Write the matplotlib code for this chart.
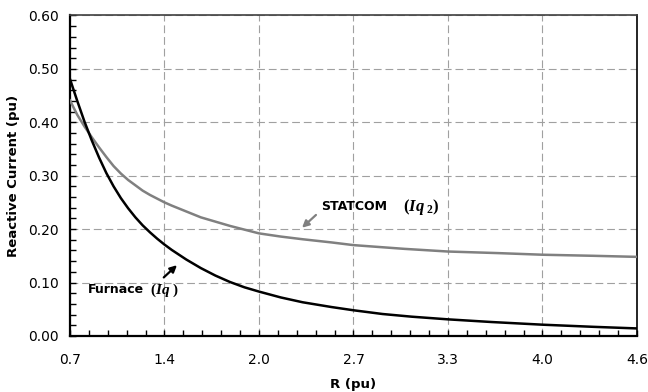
import numpy as np
import matplotlib.pyplot as plt
from matplotlib.ticker import AutoMinorLocator

# values
r_furnace = [0.70, 0.75, 0.80, 0.85, 0.90, 0.95, 1.00, 1.05, 1.10, 1.15, 1.20, 1.25, 1.30,
             1.35, 1.40, 1.50, 1.60, 1.70, 1.80, 1.90, 2.00, 2.15, 2.30, 2.50, 2.65, 2.85,
             3.05, 3.30, 3.60, 3.95, 4.30, 4.60]
iq_furnace = [0.481, 0.440, 0.401, 0.366, 0.334, 0.305, 0.280, 0.258, 0.239, 0.222, 0.207,
              0.194, 0.182, 0.171, 0.161, 0.143, 0.127, 0.113, 0.101, 0.091, 0.083, 0.072,
              0.063, 0.054, 0.048, 0.041, 0.036, 0.031, 0.026, 0.021, 0.017, 0.014]

r_statcom = [0.70, 0.75, 0.80, 0.85, 0.90, 0.95, 1.00, 1.05, 1.10, 1.15, 1.20, 1.25, 1.30,
             1.35, 1.40, 1.50, 1.60, 1.70, 1.80, 1.90, 2.00, 2.15, 2.30, 2.50, 2.65, 3.00,
             3.30, 3.65, 3.95, 4.30, 4.60]
iq_statcom = [0.441, 0.414, 0.392, 0.372, 0.353, 0.335, 0.318, 0.304, 0.292, 0.282, 0.272,
              0.264, 0.257, 0.250, 0.244, 0.233, 0.222, 0.214, 0.206, 0.199, 0.192, 0.186,
              0.181, 0.175, 0.170, 0.163, 0.158, 0.155, 0.152, 0.150, 0.148]

x_ticks = [0.7, 1.35, 2.0, 2.65, 3.3, 3.95, 4.6]
x_tick_labels = ['0.7', '1.4', '2.0', '2.7', '3.3', '4.0', '4.6']
y_ticks = [0.0, 0.1, 0.2, 0.3, 0.4, 0.5, 0.6]
y_tick_labels = ['0.00', '0.10', '0.20', '0.30', '0.40', '0.50', '0.60']

plt.rcParams['mathtext.fontset'] = 'custom'
plt.rcParams['mathtext.it'] = 'Liberation Serif:italic:bold'
plt.rcParams['mathtext.rm'] = 'Liberation Serif:bold'

fig = plt.figure(figsize=(6.48, 3.92), dpi=100)
ax = fig.add_axes([0.108, 0.1431, 0.875, 0.8174])

ax.plot(r_statcom, iq_statcom, color='#808080', lw=1.8, zorder=3)
ax.plot(r_furnace, iq_furnace, color='black', lw=1.8, zorder=3)

ax.set_xlim(0.7, 4.6)
ax.set_ylim(0.0, 0.6)
ax.set_xticks(x_ticks)
ax.set_xticklabels(x_tick_labels)
ax.set_yticks(y_ticks)
ax.set_yticklabels(y_tick_labels)
ax.xaxis.set_minor_locator(AutoMinorLocator(5))
ax.yaxis.set_minor_locator(AutoMinorLocator(5))
ax.tick_params(which='both', direction='in', length=4, width=1, top=False, right=False,
               labelsize=10, colors='black')
ax.tick_params(axis='x', pad=12)
ax.tick_params(axis='y', pad=8)

ax.grid(True, which='major', color='#a0a0a0', linestyle=(0, (7, 3.5)), linewidth=0.8, zorder=0)
ax.set_axisbelow(True)

for side in ['left', 'bottom']:
    ax.spines[side].set_linewidth(1.6)
    ax.spines[side].set_color('black')
ax.spines['top'].set_color('#404040')
ax.spines['top'].set_linewidth(1.2)
ax.spines['right'].set_color('black')
ax.spines['right'].set_linewidth(1.2)

ax.set_xlabel('R (pu)', fontweight='bold', fontsize=9.5, labelpad=8)
ax.set_ylabel('Reactive Current (pu)', fontweight='bold', fontsize=9.5, labelpad=6)

# annotations
ax.annotate('', xy=(1.45, 0.136), xytext=(1.331, 0.106),
            arrowprops=dict(arrowstyle='-|>', color='black', lw=1.6, mutation_scale=10))
ax.text(0.824, 0.086, 'Furnace', fontweight='bold', fontsize=9, va='center')
ax.text(1.25, 0.086, r'$(Iq\ )$', fontsize=11, va='center')

ax.annotate('', xy=(2.282, 0.199), xytext=(2.406, 0.230),
            arrowprops=dict(arrowstyle='-|>', color='#808080', lw=1.6, mutation_scale=10))
ax.text(2.43, 0.242, 'STATCOM', fontweight='bold', fontsize=9, va='center')
ax.text(2.99, 0.242, r'$(Iq_{\ 2})$', fontsize=12, va='center')

fig.savefig('out.png', dpi=100)
